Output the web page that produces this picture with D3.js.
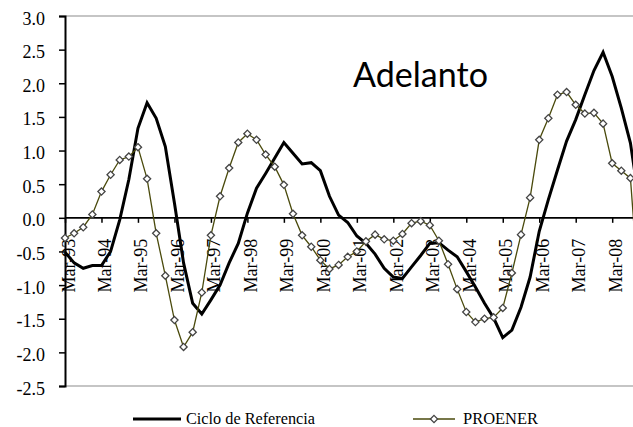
<!DOCTYPE html>
<html>
<head>
<meta charset="utf-8">
<script src="https://cdn.jsdelivr.net/npm/d3@7/dist/d3.min.js"></script>
<style>
  html, body { margin: 0; padding: 0; background: #fff; }
  svg { display: block; }
  .serif { font-family: "Liberation Serif", "Times New Roman", serif; }
</style>
</head>
<body>
<svg id="chart" width="633" height="427"></svg>
<script>
// ---- data (quarterly, starting Mar-93) ----
const tickLabels = ["Mar-93","Mar-94","Mar-95","Mar-96","Mar-97","Mar-98","Mar-99","Mar-00",
                    "Mar-01","Mar-02","Mar-03","Mar-04","Mar-05","Mar-06","Mar-07","Mar-08"];
const yTicks = [3.0, 2.5, 2.0, 1.5, 1.0, 0.5, 0.0, -0.5, -1.0, -1.5, -2.0, -2.5];

const ciclo = [
  -0.51,-0.67,-0.75,-0.71,-0.71,-0.50,-0.03, 0.57, 1.33, 1.71,
   1.48, 1.06, 0.22,-0.67,-1.27,-1.43,-1.22,-1.00,-0.67,-0.38,
   0.07, 0.44, 0.66, 0.89, 1.12, 0.96, 0.80, 0.82, 0.70, 0.32,
   0.04,-0.07,-0.27,-0.38,-0.54,-0.75,-0.88,-0.90,-0.73,-0.56,
  -0.38,-0.37,-0.48,-0.58,-0.80,-1.03,-1.27,-1.49,-1.78,-1.67,
  -1.33,-0.88,-0.20, 0.27, 0.71, 1.14, 1.46, 1.83, 2.19, 2.46,
   2.10, 1.63, 1.11, 0.20
];
const proener = [
  -0.30,-0.23,-0.14, 0.05, 0.39, 0.64, 0.86, 0.91, 1.05, 0.58,
  -0.23,-0.86,-1.52,-1.92,-1.70,-1.11,-0.26, 0.32, 0.74, 1.12,
   1.25, 1.16, 0.94, 0.76, 0.49, 0.06,-0.26,-0.43,-0.63,-0.76,
  -0.70,-0.58,-0.50,-0.35,-0.25,-0.32,-0.34,-0.24,-0.08,-0.05,
  -0.11,-0.34,-0.69,-1.06,-1.40,-1.55,-1.50,-1.48,-1.34,-0.82,
  -0.25, 0.30, 1.16, 1.48, 1.83, 1.87, 1.68, 1.55, 1.56, 1.40,
   0.81, 0.70, 0.59,-1.25
];
const seriesNames = ["Ciclo de Referencia", "PROENER"];
const chartTitle = "Adelanto";

// ---- layout ----
const svg = d3.select("#chart");
const W = 633, H = 427;
const mLeft = 65, mTop = 16, mBottom = 386;
const SERIF = '"Liberation Serif", "Times New Roman", serif';

const x = d3.scaleLinear().domain([0, 60]).range([mLeft, 612.2]);
const y = d3.scaleLinear().domain([-2.5, 3]).range([mBottom, mTop]);

svg.append("rect").attr("width", W).attr("height", H).attr("fill", "#fff");

// plot frame (top & bottom gray borders)
svg.append("line").attr("x1", mLeft).attr("x2", W).attr("y1", y(3)).attr("y2", y(3))
  .attr("stroke", "#8c8c8c").attr("stroke-width", 1.2);
svg.append("line").attr("x1", mLeft).attr("x2", W).attr("y1", y(-2.5)).attr("y2", y(-2.5))
  .attr("stroke", "#8c8c8c").attr("stroke-width", 1.2);

// Y axis
const yAxis = d3.axisLeft(y).tickValues(yTicks).tickSize(6).tickPadding(14)
  .tickFormat(d => d.toFixed(1));
const gy = svg.append("g").attr("transform", `translate(${mLeft},0)`).call(yAxis);
gy.attr("font-family", null).attr("font-size", null);
gy.select(".domain").attr("stroke", "#000").attr("stroke-width", 2);
gy.selectAll(".tick line").attr("stroke", "#000").attr("stroke-width", 1.5);
gy.selectAll(".tick text").attr("class", "serif")
  .style("font-family", SERIF).style("font-size", "18px")
  .attr("fill", "#000").attr("dy", 8);

// X axis at zero
const tickIdx = tickLabels.map((_, k) => k * 4);
const xAxis = d3.axisBottom(x).tickValues(tickIdx).tickSize(5)
  .tickFormat((d, k) => tickLabels[k]);
const gx = svg.append("g").attr("transform", `translate(0,${y(0)})`).call(xAxis);
gx.attr("font-family", null).attr("font-size", null);
gx.select(".domain").remove();
gx.append("line").attr("x1", mLeft).attr("x2", W).attr("y1", 0).attr("y2", 0)
  .attr("stroke", "#000").attr("stroke-width", 1.8);
gx.selectAll(".tick line").attr("stroke", "#000").attr("stroke-width", 1.5);
gx.selectAll(".tick text").attr("class", "serif")
  .style("font-family", SERIF).style("font-size", "18px")
  .attr("fill", "#000")
  .attr("text-anchor", "end")
  .attr("x", null).attr("y", null).attr("dy", null)
  .attr("transform", "translate(9,21) rotate(-90)");

// lines
const line = d3.line().x((d, i) => x(i)).y(d => y(d));
svg.append("path").datum(ciclo).attr("d", line)
  .attr("fill", "none").attr("stroke", "#000").attr("stroke-width", 3)
  .attr("stroke-linejoin", "miter");

svg.append("path").datum(proener).attr("d", line)
  .attr("fill", "none").attr("stroke", "#4a4a0c").attr("stroke-width", 1.3);

const diamond = "M0,-3.6L3.6,0L0,3.6L-3.6,0Z";
svg.append("g").selectAll("path").data(proener).join("path")
  .attr("d", diamond)
  .attr("transform", (d, i) => `translate(${x(i)},${y(d)})`)
  .attr("fill", "#fff").attr("stroke", "#444").attr("stroke-width", 1.3);

// title inside plot
svg.append("text").attr("x", 353).attr("y", 87)
  .style("font-family", "Lato, 'Open Sans', 'Noto Sans', sans-serif")
  .style("font-size", "34px").attr("fill", "#000")
  .attr("textLength", 135).attr("lengthAdjust", "spacingAndGlyphs")
  .text(chartTitle);

// legend
const lg = svg.append("g");
lg.append("line").attr("x1", 133).attr("x2", 181).attr("y1", 419).attr("y2", 419)
  .attr("stroke", "#000").attr("stroke-width", 3);
lg.append("text").attr("x", 186).attr("y", 424)
  .style("font-family", SERIF).style("font-size", "16px").attr("fill", "#000")
  .attr("textLength", 129).attr("lengthAdjust", "spacingAndGlyphs").text(seriesNames[0]);
lg.append("line").attr("x1", 413).attr("x2", 455).attr("y1", 419).attr("y2", 419)
  .attr("stroke", "#4a4a0c").attr("stroke-width", 1.3);
lg.append("path").attr("d", diamond).attr("transform", "translate(434,419)")
  .attr("fill", "#fff").attr("stroke", "#444").attr("stroke-width", 1.3);
lg.append("text").attr("x", 463).attr("y", 424)
  .style("font-family", SERIF).style("font-size", "16px").attr("fill", "#000")
  .attr("textLength", 75).attr("lengthAdjust", "spacingAndGlyphs").text(seriesNames[1]);
</script>
</body>
</html>
